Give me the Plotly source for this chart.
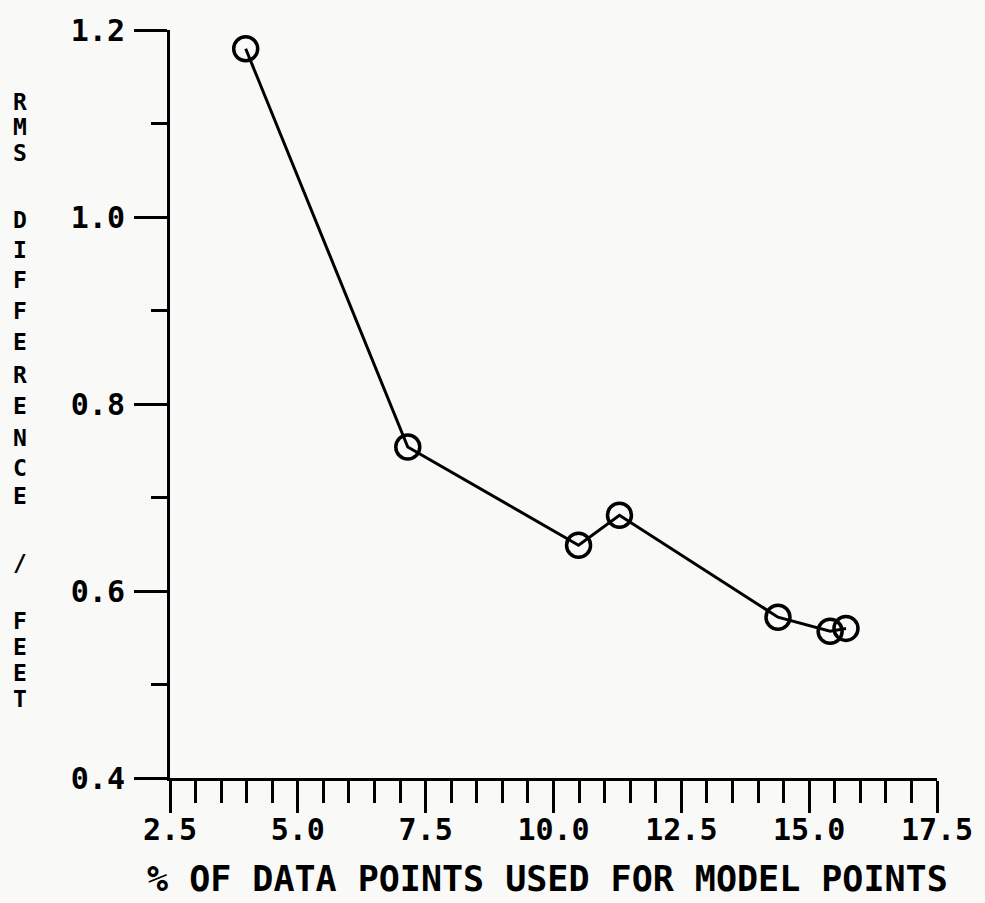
import plotly.graph_objects as go

# Data
pct_points = [3.98, 7.15, 10.49, 11.29, 14.39, 15.41, 15.72]
rms_diff = [1.180, 0.754, 0.649, 0.681, 0.572, 0.557, 0.560]

x_tick_vals = [2.5, 5.0, 7.5, 10.0, 12.5, 15.0, 17.5]
x_tick_text = ["2.5", "5.0", "7.5", "10.0", "12.5", "15.0", "17.5"]
y_tick_vals = [0.4, 0.6, 0.8, 1.0, 1.2]
y_tick_text = ["0.4", "0.6", "0.8", "1.0", "1.2"]

x_title = "% OF DATA POINTS USED FOR MODEL POINTS"
y_title_letters = ["R", "M", "S", "D", "I", "F", "F", "E", "R", "E", "N", "C", "E", "/", "F", "E", "E", "T"]
# vertical pixel centres of the stacked y-title letters (layout only)
y_title_px = [97, 123, 149, 216, 246, 277, 308, 339, 372, 404, 436, 466, 494, 562, 620, 646, 672, 698]

FONT = "DejaVu Sans Mono"
W, H = 985, 903
L, R, T, B = 170, 47, 25, 125
plot_h = H - T - B
plot_w = W - L - R

fig = go.Figure()
fig.add_trace(go.Scatter(
    x=pct_points, y=rms_diff, mode="lines+markers",
    line=dict(color="black", width=3),
    marker=dict(symbol="circle-open", size=24, color="black", line=dict(color="black", width=3.5)),
    showlegend=False, hoverinfo="skip",
))

axis_common = dict(
    showgrid=False, zeroline=False, showline=True, linecolor="black", linewidth=3,
    ticks="outside", tickcolor="black", tickwidth=3,
    tickfont=dict(family=FONT, size=30, color="black", weight="bold"),
    tickmode="array",
)

fig.update_xaxes(
    range=[2.5, 17.5], tickvals=x_tick_vals, ticktext=x_tick_text, ticklen=32,
    minor=dict(dtick=0.5, tick0=2.5, ticks="outside", ticklen=22, tickwidth=3, tickcolor="black"),
    ticklabelstandoff=-9,
    **axis_common,
)
fig.update_yaxes(
    range=[0.4, 1.2], tickvals=y_tick_vals, ticktext=y_tick_text, ticklen=33,
    minor=dict(dtick=0.1, tick0=0.4, ticks="outside", ticklen=16, tickwidth=3, tickcolor="black"),
    ticklabelstandoff=3,
    **axis_common,
)

annotations = [dict(
    text=x_title, xref="paper", yref="paper",
    x=(548 - L) / plot_w, y=(H - B - 880) / plot_h,
    xanchor="center", yanchor="middle", showarrow=False,
    font=dict(family=FONT, size=35, color="black", weight="bold"),
)]
for letter, ypx in zip(y_title_letters, y_title_px):
    annotations.append(dict(
        text=letter, xref="paper", yref="paper",
        x=(20 - L) / plot_w, y=(H - B - ypx) / plot_h,
        xanchor="center", yanchor="middle", showarrow=False,
        font=dict(family=FONT, size=23, color="black", weight="bold"),
    ))

fig.update_layout(
    width=W, height=H,
    margin=dict(l=L, r=R, t=T, b=B, pad=0),
    paper_bgcolor="#f9f9f8", plot_bgcolor="#f9f9f8",
    annotations=annotations,
)

fig.write_html(
    "out.html",
    config={"displayModeBar": False},
    post_script="document.body.style.margin='0px';document.body.style.overflow='hidden';document.documentElement.style.overflow='hidden';",
)
